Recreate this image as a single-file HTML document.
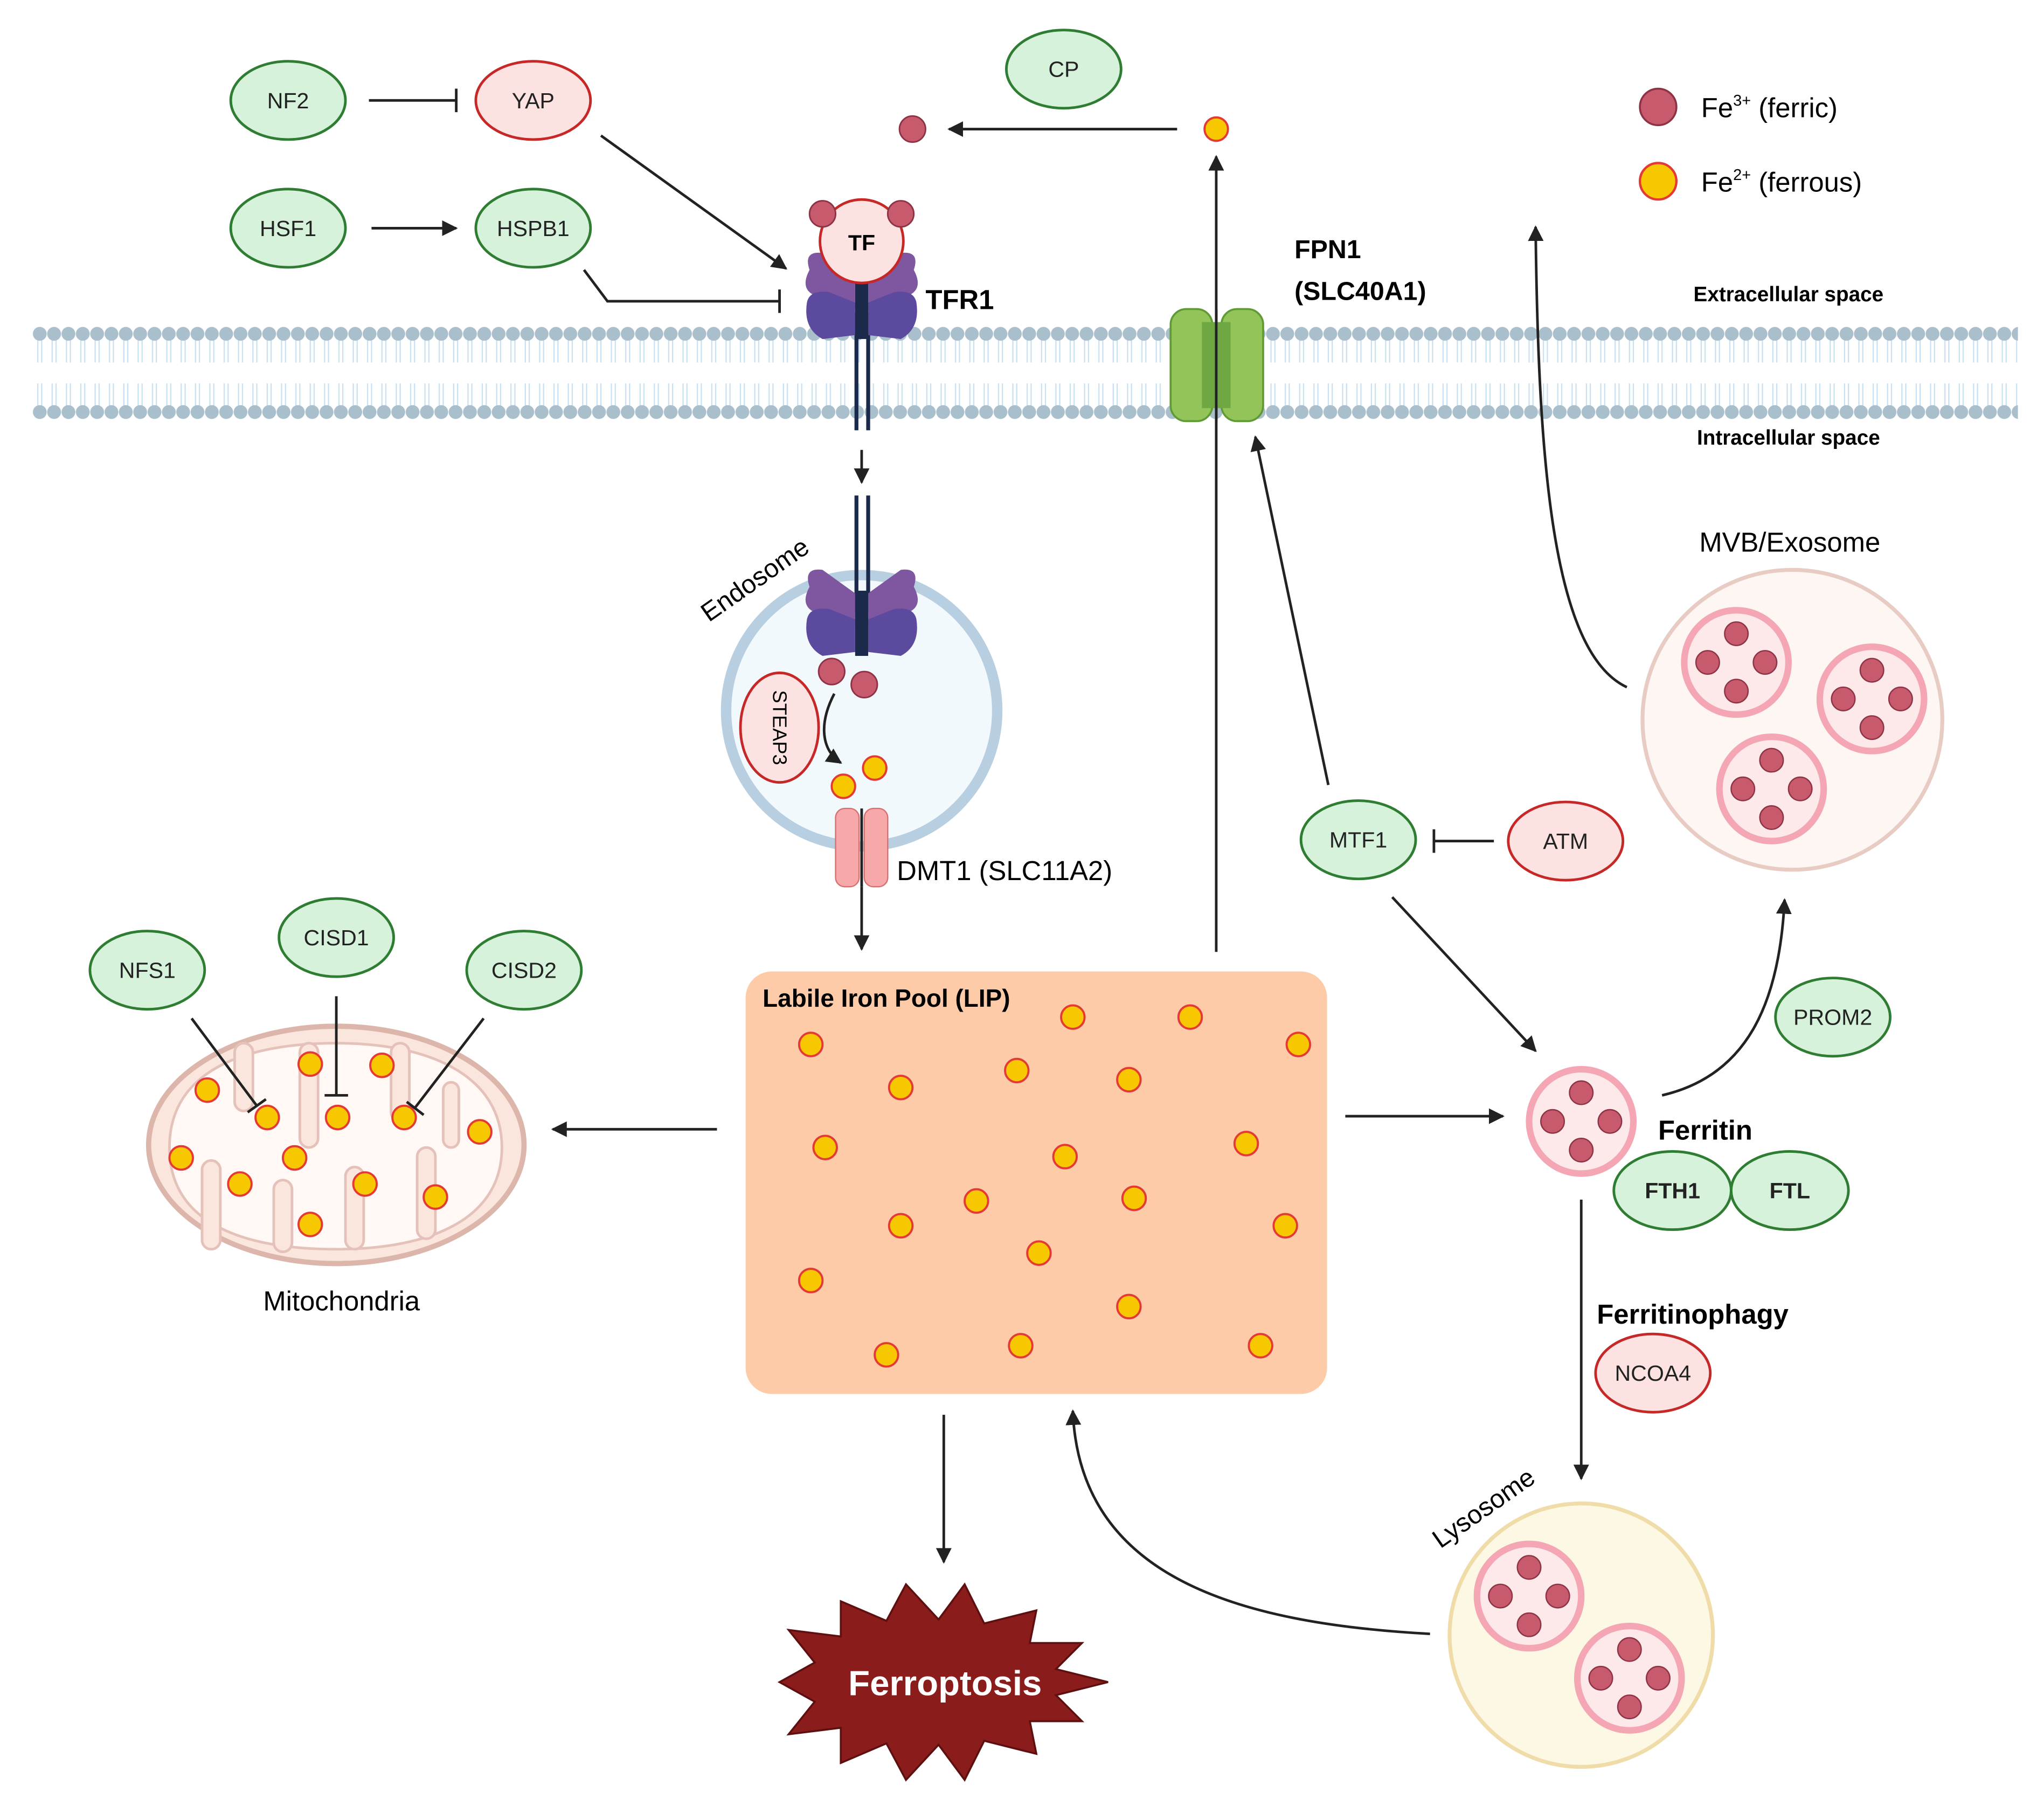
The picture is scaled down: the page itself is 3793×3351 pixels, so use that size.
<!DOCTYPE html>
<html><head><meta charset="utf-8"><style>html,body{margin:0;padding:0;background:#fff}svg{display:block}text{font-family:"Liberation Sans",sans-serif}</style></head><body>
<svg width="3793" height="3351" viewBox="0 0 1568 1385" preserveAspectRatio="none" xmlns="http://www.w3.org/2000/svg">
<defs>
<marker id="ar" viewBox="0 0 10 10" refX="9" refY="5" markerWidth="6" markerHeight="6" orient="auto-start-reverse"><path d="M0,0 L10,5 L0,10 z" fill="#222"/></marker>
<pattern id="mem" x="25" y="248" width="11" height="76" patternUnits="userSpaceOnUse">
<path d="M4,12 V30 M7,12 V30 M4,46 V64 M7,46 V64" stroke="#c6e0f2" stroke-width="0.9" fill="none"/>
<circle cx="5.5" cy="8" r="5.3" fill="#a9bfcc"/><circle cx="5.5" cy="68" r="5.3" fill="#a9bfcc"/>
</pattern>
<g id="fe2"><circle r="9" fill="#f7c800" stroke="#e53935" stroke-width="1.6"/></g>
<g id="fe3"><circle r="10" fill="#c85a6e" stroke="#8e3344" stroke-width="1.2"/></g>
<g id="fer"><circle r="40" fill="#fde8ea" stroke="#f4a6b4" stroke-width="5"/>
<circle cx="0" cy="-22" r="9" fill="#c85a6e" stroke="#8e3344"/><circle cx="-22" cy="0" r="9" fill="#c85a6e" stroke="#8e3344"/><circle cx="22" cy="0" r="9" fill="#c85a6e" stroke="#8e3344"/><circle cx="0" cy="22" r="9" fill="#c85a6e" stroke="#8e3344"/></g>
<g id="tfr"><path d="M-40,-25 Q-45,-40 -30,-38 L-5,-20 L-5,5 L-35,-5 Q-48,-10 -40,-25Z M40,-25 Q45,-40 30,-38 L5,-20 L5,5 L35,-5 Q48,-10 40,-25Z" fill="#7e57a0"/>
<path d="M-42,0 Q-40,-10 -25,-8 L-5,0 L-5,25 L-30,28 Q-45,20 -42,0Z M42,0 Q40,-10 25,-8 L5,0 L5,25 L30,28 Q45,20 42,0Z" fill="#5b4a9e"/>
<rect x="-5" y="-22" width="10" height="50" fill="#1b2a4a"/></g>
</defs>
<rect width="1568" height="1385" fill="#fff"/>
<rect x="25" y="248" width="1523" height="76" fill="url(#mem)"/>
<g font-size="17" text-anchor="middle" fill="#222">
<ellipse cx="221" cy="77" rx="44" ry="30" fill="#d6f2da" stroke="#2e7d32" stroke-width="2"/><text x="221" y="83">NF2</text>
<ellipse cx="409" cy="77" rx="44" ry="30" fill="#fde2e2" stroke="#c62828" stroke-width="2"/><text x="409" y="83">YAP</text>
<ellipse cx="221" cy="175" rx="44" ry="30" fill="#d6f2da" stroke="#2e7d32" stroke-width="2"/><text x="221" y="181">HSF1</text>
<ellipse cx="409" cy="175" rx="44" ry="30" fill="#d6f2da" stroke="#2e7d32" stroke-width="2"/><text x="409" y="181">HSPB1</text>
<ellipse cx="816" cy="53" rx="44" ry="30" fill="#d6f2da" stroke="#2e7d32" stroke-width="2"/><text x="816" y="59">CP</text>
<ellipse cx="113" cy="744" rx="44" ry="30" fill="#d6f2da" stroke="#2e7d32" stroke-width="2"/><text x="113" y="750">NFS1</text>
<ellipse cx="258" cy="719" rx="44" ry="30" fill="#d6f2da" stroke="#2e7d32" stroke-width="2"/><text x="258" y="725">CISD1</text>
<ellipse cx="402" cy="744" rx="44" ry="30" fill="#d6f2da" stroke="#2e7d32" stroke-width="2"/><text x="402" y="750">CISD2</text>
<ellipse cx="1042" cy="644" rx="44" ry="30" fill="#d6f2da" stroke="#2e7d32" stroke-width="2"/><text x="1042" y="650">MTF1</text>
<ellipse cx="1201" cy="645" rx="44" ry="30" fill="#fde2e2" stroke="#c62828" stroke-width="2"/><text x="1201" y="651">ATM</text>
<ellipse cx="1406" cy="780" rx="44" ry="30" fill="#d6f2da" stroke="#2e7d32" stroke-width="2"/><text x="1406" y="786">PROM2</text>
<ellipse cx="1268" cy="1053" rx="44" ry="30" fill="#fde2e2" stroke="#c62828" stroke-width="2"/><text x="1268" y="1059">NCOA4</text>
<ellipse cx="1283" cy="913" rx="45" ry="30" fill="#d6f2da" stroke="#2e7d32" stroke-width="2"/><text x="1283" y="919" font-weight="bold">FTH1</text>
<ellipse cx="1373" cy="913" rx="45" ry="30" fill="#d6f2da" stroke="#2e7d32" stroke-width="2"/><text x="1373" y="919" font-weight="bold">FTL</text>
</g>
<!-- mitochondria -->
<ellipse cx="258" cy="878" rx="144" ry="91" fill="#fbe6de" stroke="#dcb5ab" stroke-width="4"/>
<path d="M130,880 C130,820 190,800 258,800 C330,800 385,825 385,880 C385,935 330,958 258,958 C190,958 130,940 130,880Z" fill="#fff8f5" stroke="#e4c2ba" stroke-width="2"/>
<g stroke="#e4c2ba" stroke-width="2" fill="#fbe6de">
<rect x="180" y="800" width="14" height="52" rx="7"/><rect x="230" y="800" width="14" height="80" rx="7"/><rect x="300" y="800" width="14" height="60" rx="7"/><rect x="340" y="830" width="12" height="50" rx="6"/>
<rect x="155" y="890" width="14" height="68" rx="7"/><rect x="210" y="905" width="14" height="55" rx="7"/><rect x="265" y="895" width="14" height="63" rx="7"/><rect x="320" y="880" width="14" height="70" rx="7"/>
</g>
<g><use href="#fe2" x="159" y="836"/><use href="#fe2" x="238" y="816"/><use href="#fe2" x="293" y="817"/><use href="#fe2" x="205" y="857"/><use href="#fe2" x="259" y="857"/><use href="#fe2" x="310" y="857"/><use href="#fe2" x="368" y="868"/><use href="#fe2" x="139" y="888"/><use href="#fe2" x="226" y="888"/><use href="#fe2" x="184" y="908"/><use href="#fe2" x="280" y="908"/><use href="#fe2" x="334" y="918"/><use href="#fe2" x="238" y="939"/></g>
<text x="262" y="1005" font-size="21" text-anchor="middle">Mitochondria</text>
<g stroke="#222" stroke-width="2" fill="none">
<line x1="283" y1="77" x2="350" y2="77"/><line x1="350" y1="68" x2="350" y2="86"/>
<line x1="285" y1="175" x2="350" y2="175" marker-end="url(#ar)"/>
<line x1="461" y1="104" x2="603" y2="206" marker-end="url(#ar)"/>
<path d="M448,207 L466,231 L598,231"/><line x1="598" y1="222" x2="598" y2="240"/>
<line x1="661" y1="345" x2="661" y2="370" marker-end="url(#ar)"/>
<line x1="903" y1="99" x2="728" y2="99" marker-end="url(#ar)"/>
<line x1="933" y1="730" x2="933" y2="120" marker-end="url(#ar)"/>
<line x1="661" y1="680" x2="661" y2="728" marker-end="url(#ar)"/>
<line x1="550" y1="866" x2="424" y2="866" marker-end="url(#ar)"/>
<line x1="147" y1="781" x2="197" y2="848"/><line x1="190" y1="853" x2="204" y2="843"/>
<line x1="258" y1="764" x2="258" y2="840"/><line x1="249" y1="840" x2="267" y2="840"/>
<line x1="371" y1="781" x2="318" y2="850"/><line x1="312" y1="845" x2="325" y2="855"/>
<line x1="1146" y1="645" x2="1100" y2="645"/><line x1="1100" y1="636" x2="1100" y2="654"/>
<line x1="1019" y1="602" x2="963" y2="335" marker-end="url(#ar)"/>
<line x1="1068" y1="688" x2="1178" y2="806" marker-end="url(#ar)"/>
<line x1="1032" y1="856" x2="1153" y2="856" marker-end="url(#ar)"/>
<path d="M1275,840 C1340,825 1365,770 1369,690" marker-end="url(#ar)"/>
<path d="M1248,527 C1190,500 1180,350 1178,174" marker-end="url(#ar)"/>
<line x1="1213" y1="920" x2="1213" y2="1134" marker-end="url(#ar)"/>
<path d="M1097,1253 C950,1245 828,1210 823,1082" marker-end="url(#ar)"/>
<line x1="724" y1="1085" x2="724" y2="1198" marker-end="url(#ar)"/>
</g>
<line x1="657" y1="240" x2="657" y2="330" stroke="#1b2a4a" stroke-width="3"/><line x1="666" y1="240" x2="666" y2="330" stroke="#1b2a4a" stroke-width="3"/>
<use href="#tfr" x="661" y="232"/>
<circle cx="661" cy="185" r="32" fill="#fde2e2" stroke="#c62828" stroke-width="2"/>
<use href="#fe3" x="631" y="164"/><use href="#fe3" x="691" y="164"/>
<text x="661" y="192" font-size="17" font-weight="bold" text-anchor="middle">TF</text>
<text x="710" y="237" font-size="21" font-weight="bold">TFR1</text>
<rect x="898" y="237" width="32" height="86" rx="12" fill="#92c45a" stroke="#5f9a34" stroke-width="1.5"/>
<rect x="937" y="237" width="32" height="86" rx="12" fill="#92c45a" stroke="#5f9a34" stroke-width="1.5"/>
<rect x="922" y="247" width="22" height="66" fill="#6fa843"/>
<line x1="933" y1="237" x2="933" y2="323" stroke="#222" stroke-width="2"/>
<text x="993" y="198" font-size="20" font-weight="bold">FPN1</text>
<text x="993" y="230" font-size="20" font-weight="bold">(SLC40A1)</text>
<use href="#fe2" x="933" y="99"/><use href="#fe3" x="700" y="99"/>
<circle cx="1272" cy="82" r="14" fill="#c85a6e" stroke="#8e3344" stroke-width="1.5"/>
<text x="1305" y="90" font-size="21">Fe<tspan font-size="12" dy="-9">3+</tspan><tspan dy="9"> (ferric)</tspan></text>
<circle cx="1272" cy="139" r="14" fill="#f7c800" stroke="#e53935" stroke-width="1.8"/>
<text x="1305" y="147" font-size="21">Fe<tspan font-size="12" dy="-9">2+</tspan><tspan dy="9"> (ferrous)</tspan></text>
<text x="1372" y="231" font-size="16" font-weight="bold" text-anchor="middle">Extracellular space</text>
<text x="1372" y="341" font-size="16" font-weight="bold" text-anchor="middle">Intracellular space</text>
<circle cx="661" cy="545" r="104" fill="#f2f9fd" stroke="#b7cfe0" stroke-width="8"/>
<line x1="657" y1="380" x2="657" y2="470" stroke="#1b2a4a" stroke-width="3"/><line x1="666" y1="380" x2="666" y2="470" stroke="#1b2a4a" stroke-width="3"/>
<use href="#tfr" x="661" y="475"/>
<text x="583" y="450" font-size="20" text-anchor="middle" transform="rotate(-35 583 450)">Endosome</text>
<ellipse cx="598" cy="558" rx="30" ry="42" fill="#fde2e2" stroke="#c62828" stroke-width="2"/>
<text x="598" y="558" font-size="15" text-anchor="middle" transform="rotate(90 598 558)" dy="5">STEAP3</text>
<use href="#fe3" x="638" y="515"/><use href="#fe3" x="663" y="525"/>
<path d="M640,532 C628,555 630,575 645,585" stroke="#222" stroke-width="2" fill="none" marker-end="url(#ar)"/>
<use href="#fe2" x="647" y="603"/><use href="#fe2" x="671" y="589"/>
<rect x="641" y="620" width="18" height="60" rx="7" fill="#f7a9a9" stroke="#d97070"/>
<rect x="663" y="620" width="18" height="60" rx="7" fill="#f7a9a9" stroke="#d97070"/>
<line x1="661" y1="620" x2="661" y2="680" stroke="#222" stroke-width="2"/>
<text x="688" y="675" font-size="21">DMT1 (SLC11A2)</text>
<rect x="572" y="745" width="446" height="324" rx="20" fill="#fdcba8"/>
<text x="585" y="772" font-size="19" font-weight="bold">Labile Iron Pool (LIP)</text>
<g>
<use href="#fe2" x="622" y="801"/><use href="#fe2" x="691" y="834"/><use href="#fe2" x="780" y="821"/><use href="#fe2" x="823" y="780"/><use href="#fe2" x="866" y="828"/><use href="#fe2" x="913" y="780"/><use href="#fe2" x="996" y="801"/><use href="#fe2" x="633" y="880"/><use href="#fe2" x="817" y="887"/><use href="#fe2" x="956" y="877"/><use href="#fe2" x="749" y="921"/><use href="#fe2" x="870" y="919"/><use href="#fe2" x="691" y="940"/><use href="#fe2" x="797" y="961"/><use href="#fe2" x="986" y="940"/><use href="#fe2" x="622" y="982"/><use href="#fe2" x="866" y="1002"/><use href="#fe2" x="680" y="1039"/><use href="#fe2" x="783" y="1032"/><use href="#fe2" x="967" y="1032"/>
</g>
<circle cx="1375" cy="552" r="115" fill="#fdf6f3" stroke="#e8ccc4" stroke-width="3"/>
<text x="1373" y="423" font-size="21" text-anchor="middle">MVB/Exosome</text>
<use href="#fer" x="1332" y="508"/><use href="#fer" x="1436" y="536"/><use href="#fer" x="1359" y="605"/>
<use href="#fer" x="1213" y="860"/>
<text x="1272" y="874" font-size="21" font-weight="bold">Ferritin</text>
<text x="1225" y="1015" font-size="21" font-weight="bold">Ferritinophagy</text>
<circle cx="1213" cy="1254" r="101" fill="#fdf8e4" stroke="#f0dca8" stroke-width="3"/>
<text x="1142" y="1162" font-size="20" text-anchor="middle" transform="rotate(-35 1142 1162)">Lysosome</text>
<use href="#fer" x="1173" y="1224"/><use href="#fer" x="1250" y="1287"/>
<polygon fill="#8b1c1c" stroke="#5e1010" stroke-width="1.5" points="850,1290 810,1300 830,1320 790,1320 795,1345 755,1335 740,1365 720,1338 695,1365 680,1337 645,1352 645,1325 605,1330 625,1305 598,1290 625,1275 605,1250 645,1255 645,1228 680,1243 695,1215 720,1242 740,1215 755,1245 795,1235 790,1260 830,1260 810,1280"/>
<text x="725" y="1300" font-size="27" font-weight="bold" fill="#fff" text-anchor="middle">Ferroptosis</text>
</svg>
</body></html>
